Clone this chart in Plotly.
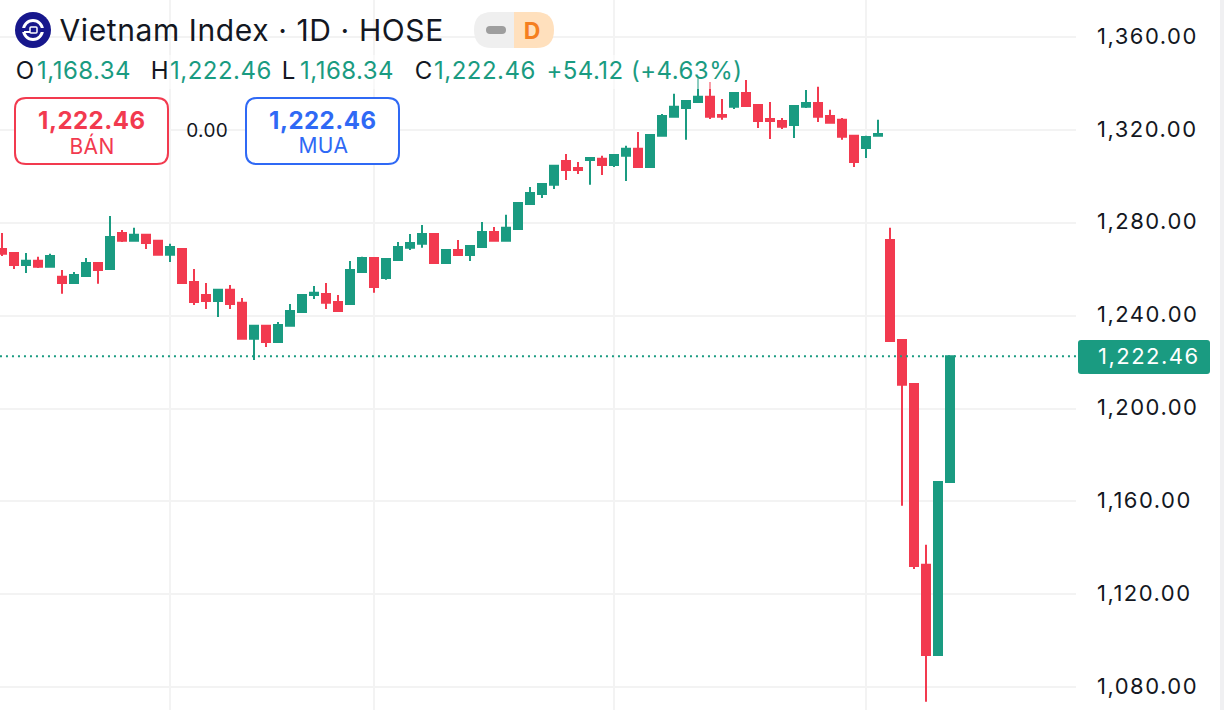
import plotly.graph_objects as go

W, H = 1224, 710

# oldest first
open_ = [1268.7, 1267.0, 1261.8, 1263.6, 1261.0, 1256.7, 1254.1, 1257.1, 1262.7, 1260.1,
         1275.6, 1272.2, 1274.8, 1272.2, 1266.2, 1268.7, 1254.5, 1248.9, 1246.3, 1251.1,
         1245.5, 1230.0, 1235.6, 1228.7, 1235.6, 1241.6, 1248.9, 1249.3, 1245.9, 1245.0,
         1258.8, 1264.8, 1256.2, 1264.0, 1269.2, 1270.9, 1275.2, 1262.7, 1268.3, 1266.1,
         1269.6, 1276.0, 1272.2, 1277.3, 1288.1, 1292.4, 1296.3, 1306.6, 1303.6, 1307.0,
         1307.5, 1304.9, 1308.8, 1311.8, 1304.0, 1317.4, 1325.6, 1329.4, 1332.0, 1334.2,
         1326.4, 1329.9, 1335.9, 1330.7, 1324.7, 1323.8, 1322.1, 1329.9, 1331.6, 1326.0,
         1324.3, 1317.4, 1312.2, 1317.4, 1272.6, 1229.5, 1210.6, 1132.7, 1093.9, 1168.34]
high = [1275.6, 1267.0, 1267.0, 1265.3, 1266.6, 1259.7, 1258.8, 1264.8, 1263.1, 1282.9,
        1276.9, 1277.8, 1274.8, 1272.2, 1270.9, 1268.7, 1260.1, 1254.1, 1251.1, 1253.2,
        1247.6, 1235.6, 1235.6, 1237.3, 1245.0, 1248.9, 1252.8, 1254.1, 1248.9, 1263.5,
        1265.3, 1264.8, 1264.4, 1271.7, 1275.2, 1279.0, 1275.2, 1268.3, 1272.6, 1270.4,
        1280.3, 1278.2, 1283.4, 1288.5, 1295.4, 1296.7, 1304.5, 1309.6, 1306.2, 1307.9,
        1308.8, 1309.6, 1313.1, 1319.1, 1317.8, 1326.8, 1335.5, 1332.4, 1342.2, 1340.6,
        1333.3, 1335.9, 1341.5, 1330.7, 1332.0, 1325.1, 1330.3, 1337.2, 1338.5, 1328.6,
        1325.1, 1317.4, 1317.4, 1324.3, 1277.8, 1229.5, 1210.6, 1141.3, 1168.34, 1222.46]
low = [1265.7, 1260.1, 1258.4, 1260.5, 1261.0, 1249.4, 1253.7, 1257.1, 1253.7, 1260.1,
       1271.7, 1272.2, 1268.7, 1266.2, 1263.1, 1254.1, 1244.6, 1242.9, 1239.4, 1242.9,
       1230.0, 1220.9, 1226.5, 1228.7, 1235.6, 1241.6, 1247.2, 1242.9, 1242.0, 1244.6,
       1258.4, 1249.8, 1255.4, 1264.0, 1268.3, 1269.2, 1262.7, 1262.7, 1266.1, 1263.5,
       1269.6, 1272.2, 1272.2, 1277.3, 1288.1, 1290.7, 1294.5, 1298.4, 1301.0, 1296.3,
       1300.6, 1304.0, 1298.0, 1304.0, 1304.0, 1317.4, 1325.6, 1315.7, 1331.6, 1324.7,
       1324.3, 1329.0, 1330.3, 1320.8, 1316.1, 1320.4, 1316.5, 1329.4, 1323.4, 1323.0,
       1315.7, 1304.0, 1307.9, 1317.4, 1229.1, 1158.1, 1130.9, 1073.7, 1093.9, 1168.34]
close = [1266.6, 1261.8, 1263.6, 1261.0, 1265.7, 1254.1, 1257.5, 1262.7, 1259.7, 1273.9,
         1272.2, 1274.8, 1271.3, 1266.2, 1269.6, 1254.1, 1245.9, 1246.3, 1251.1, 1245.0,
         1230.0, 1235.6, 1228.7, 1236.0, 1242.0, 1248.9, 1249.8, 1245.5, 1242.0, 1259.7,
         1264.8, 1252.3, 1264.4, 1269.6, 1271.3, 1275.2, 1262.7, 1268.3, 1266.1, 1270.0,
         1276.0, 1272.2, 1277.8, 1288.5, 1292.8, 1296.7, 1304.5, 1302.7, 1302.7, 1307.9,
         1304.9, 1309.2, 1311.8, 1304.0, 1317.8, 1326.0, 1329.9, 1332.4, 1334.2, 1325.6,
         1325.6, 1335.9, 1330.3, 1323.8, 1323.8, 1321.3, 1330.3, 1331.6, 1325.6, 1323.0,
         1317.0, 1306.2, 1316.9, 1318.2, 1229.1, 1210.2, 1132.2, 1093.9, 1168.4, 1222.46]
candle_idx = list(range(len(close)))
grid_idx = [14, 31, 51, 72]
price_ticks = [1360, 1320, 1280, 1240, 1200, 1160, 1120, 1080]
ohlc_labels = ["O", "H", "L", "C"]
ohlc_values = ["1,168.34", "1,222.46", "1,168.34", "1,222.46"]
change_text = "+54.12 (+4.63%)"
title_text = "Vietnam Index · 1D · HOSE"

GREEN = "#1A9B81"
RED = "#F23A4F"
BLUE = "#2F69F5"
INK = "#131722"
GRID = "#F3F3F3"
FONT = "Inter"


def px(x):
    return x / W


def py(y):
    return 1 - y / H


def round_rect(x0, y0, x1, y1, r):
    # rounded box given in window pixels, as a path in paper coords
    pts = [
        f"M {px(x0 + r)} {py(y0)}", f"L {px(x1 - r)} {py(y0)}",
        f"Q {px(x1)} {py(y0)} {px(x1)} {py(y0 + r)}", f"L {px(x1)} {py(y1 - r)}",
        f"Q {px(x1)} {py(y1)} {px(x1 - r)} {py(y1)}", f"L {px(x0 + r)} {py(y1)}",
        f"Q {px(x0)} {py(y1)} {px(x0)} {py(y1 - r)}", f"L {px(x0)} {py(y0 + r)}",
        f"Q {px(x0)} {py(y0)} {px(x0 + r)} {py(y0)} Z",
    ]
    return " ".join(pts)


def pill_half(x0, x1, y0, y1, left):
    r = (y1 - y0) / 2
    if left:
        return (f"M {px(x1)} {py(y0)} L {px(x0 + r)} {py(y0)} Q {px(x0)} {py(y0)} {px(x0)} {py(y0 + r)} "
                f"Q {px(x0)} {py(y1)} {px(x0 + r)} {py(y1)} L {px(x1)} {py(y1)} Z")
    return (f"M {px(x0)} {py(y0)} L {px(x1 - r)} {py(y0)} Q {px(x1)} {py(y0)} {px(x1)} {py(y0 + r)} "
            f"Q {px(x1)} {py(y1)} {px(x1 - r)} {py(y1)} L {px(x0)} {py(y1)} Z")


def box(x0, y0, x1, y1, fill):
    return dict(type="rect", xref="paper", yref="paper", x0=px(x0), x1=px(x1), y0=py(y1), y1=py(y0),
                fillcolor=fill, line_width=0, layer="above")


def path(d, fill="rgba(0,0,0,0)", line=None, width=0):
    return dict(type="path", xref="paper", yref="paper", path=d, fillcolor=fill,
                line=dict(color=line or fill, width=width), layer="above")


def circle(cx, cy, r, fill, line=None, width=0):
    return dict(type="circle", xref="paper", yref="paper", x0=px(cx - r), x1=px(cx + r),
                y0=py(cy + r), y1=py(cy - r), fillcolor=fill,
                line=dict(color=line or fill, width=width), layer="above")


def label(x, y, text, size, color=INK, anchor="left", bold=False):
    return dict(xref="paper", yref="paper", x=px(x), y=py(y), text=f"<b>{text}</b>" if bold else text,
                showarrow=False, xanchor=anchor, yanchor="middle", borderpad=0,
                font=dict(family=FONT, size=size, color=color))


fig = go.Figure()
fig.add_trace(go.Candlestick(
    x=candle_idx, open=open_, high=high, low=low, close=close,
    increasing=dict(line=dict(color=GREEN, width=2), fillcolor=GREEN),
    decreasing=dict(line=dict(color=RED, width=2), fillcolor=RED),
    whiskerwidth=0, hoverinfo="skip",
))

shapes = [
    # last price line
    dict(type="line", xref="x", yref="y", x0=-0.17, x1=89.5, y0=close[-1], y1=close[-1],
         line=dict(color=GREEN, width=2, dash="2px,4px"), layer="above"),
    # legend row veil, wicks go pale behind it
    box(0, 55, 745, 89, "rgba(255,255,255,0.5)"),
    box(1220, 0, 1224, 710, "#F0F0F2"),
    # logo
    circle(33, 30, 18, "#17178C"),
    circle(33, 30, 9.5, "rgba(0,0,0,0)", "white", 3),
    box(22, 28, 44, 32, "#17178C"),
    box(24, 31, 37, 33, "white"),
    box(30, 27, 37, 33, "#17178C"),
    path(round_rect(30, 27, 37, 33, 1), line="white", width=1.5),
    # D pill
    path(pill_half(474, 514, 12, 48, True), "#EFEFEF"),
    path(pill_half(514, 554, 12, 48, False), "#FFE0BD"),
    path(round_rect(486, 26, 506, 34, 4), "#9E9E9E"),
    # sell / buy boxes
    path(round_rect(15, 98, 168, 164, 11), "white", RED, 2),
    path(round_rect(246, 98, 399, 164, 11), "white", BLUE, 2),
    # last price tag
    path(round_rect(1078, 340, 1210, 374, 3), GREEN),
]

# the extra letter spacing below grows each text both ways from its middle,
# so the left-anchored x values here sit a bit right of where the text starts
annotations = [
    label(66, 30, title_text, 30),
    label(532, 31, "D", 23, "#F57F20", "center", True),
    label(549, 71, change_text, 24, GREEN),
    label(92, 120, ohlc_values[1], 24, RED, "center", True),
    label(92, 146, "BÁN", 21, RED, "center"),
    label(207, 131, "0.00", 19, INK, "center"),
    label(323, 120, ohlc_values[1], 24, BLUE, "center", True),
    label(323, 146, "MUA", 21, BLUE, "center"),
    label(1103, 356, f"{close[-1]:,.2f}", 22, "white"),
]
for lab_x, val_x, lab, val in zip([15, 150, 281, 414], [38, 171, 301, 435], ohlc_labels, ohlc_values):
    annotations.append(label(lab_x, 71, lab, 24))
    annotations.append(label(val_x, 71, val, 24, GREEN))

fig.update_layout(
    width=W, height=H, margin=dict(l=0, r=0, t=0, b=0),
    paper_bgcolor="white", plot_bgcolor="white", showlegend=False,
    boxgap=1 / 3, boxgroupgap=0,
    shapes=shapes, annotations=annotations,
    xaxis=dict(domain=[0, 1076 / W], range=[-0.1667, 89.5], rangeslider_visible=False,
               tickvals=grid_idx, showticklabels=False, ticks="", showgrid=True,
               gridcolor=GRID, gridwidth=2, zeroline=False, showline=False),
    yaxis=dict(side="right", range=[1070.2, 1375.9], tickvals=price_ticks, tickformat=",.2f",
               ticks="", ticklabelstandoff=20, showgrid=True, gridcolor=GRID, gridwidth=2,
               zeroline=False, showline=False, tickfont=dict(family=FONT, size=22, color=INK)),
)

# wider number spacing than plotly can ask for through font attributes
page_fix = """
document.body.style.margin='0';document.body.style.overflow='hidden';
var st=document.createElement('style');
st.textContent='.annotation text{letter-spacing:.02em}'
 +'.annotation[data-index="8"] text,.ytick text{letter-spacing:.068em}'
 +'.yaxislayer-above{transform:translateY(-1px)}';
document.head.appendChild(st);
"""
fig.write_html("out.html", config=dict(displayModeBar=False), post_script=page_fix)
